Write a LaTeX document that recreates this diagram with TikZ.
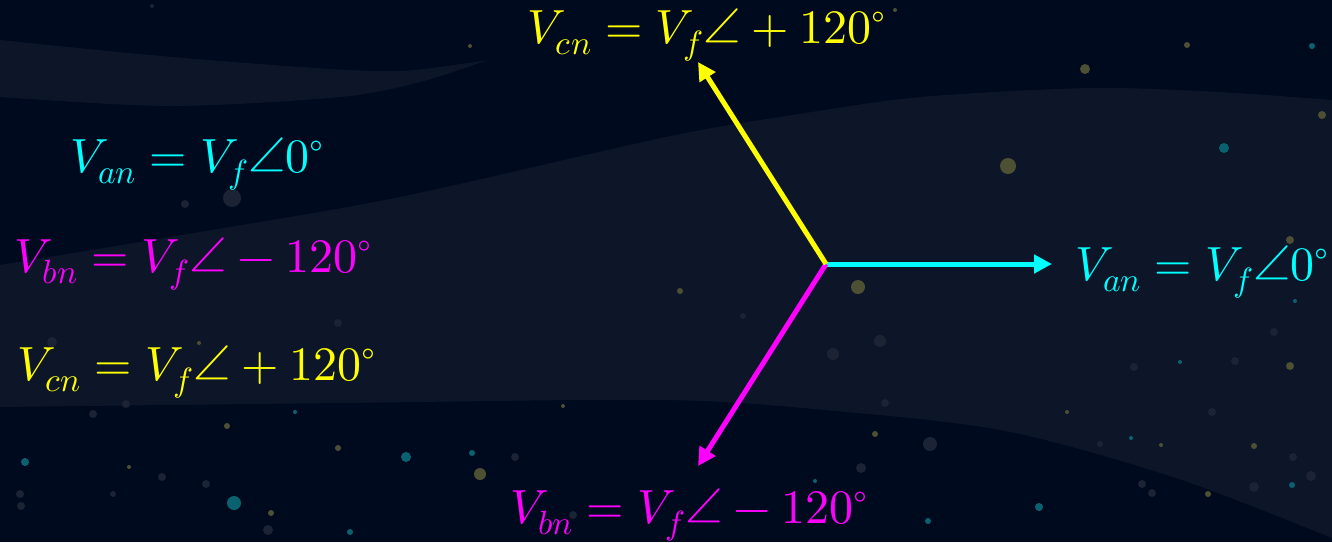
\documentclass[tikz,border=0pt]{standalone}
\usepackage{unicode-math}
\usepackage{tikz}
\usetikzlibrary{arrows.meta}
\definecolor{bgbase}{RGB}{0,10,31}
\definecolor{bgband}{RGB}{13,22,41}
\definecolor{dotolive}{RGB}{78,80,52}
\definecolor{dotteal}{RGB}{10,98,112}
\definecolor{dotgrey}{RGB}{27,35,52}
\definecolor{phcyan}{RGB}{0,255,255}
\definecolor{phmag}{RGB}{255,0,255}
\definecolor{phyel}{RGB}{255,255,0}
\tikzset{
  phlabel/.style={inner sep=0pt, font=\fontsize{48}{56}\selectfont},
  phasor/.style={line width=5pt, -{Triangle[length=18pt,width=18pt]}},
}
\begin{document}
\begin{tikzpicture}[x=1pt,y=-1pt]
  % background and frame of the picture
  \fill[bgbase] (0,0) rectangle (1332,542);
  \useasboundingbox (0,0) rectangle (1332,542);
  % upper wisp
  \fill[bgband] plot[smooth] coordinates {(0,40) (150,55) (300,67) (400,71) (488,60)}
    -- plot[smooth] coordinates {(488,60) (420,82) (340,97) (170,106) (0,97)} -- cycle;
  % wide band
  \fill[bgband] plot[smooth] coordinates {(0,265) (200,232) (400,197) (666,137)
      (793,115) (921,97) (1091,88) (1218,92) (1332,100)}
    -- plot[smooth] coordinates {(1332,538) (1176,478) (1006,431) (836,411)
      (666,400) (340,403) (0,407)} -- cycle;
  % stars
  \foreach \x/\y/\r in {1008/166/8, 858/287/7, 1085/69/5, 480/474/6, 1187/45/3,
      1322/115/4, 1290/240/4, 895/10/2, 680/291/3, 1290/366/4, 1254/446/3,
      1208/494/3, 875/434/3, 1161/445/2, 1067/412/2, 338/448/3, 199/343/2,
      227/426/3, 271/513/3, 129/467/2, 563/406/2, 470/46/2}
    \fill[dotolive] (\x,\y) circle[radius=\r pt];
  \foreach \x/\y/\r in {1224/148/5, 1312/46/3, 234/503/7, 406/457/5, 25/462/4,
      1039/507/4, 928/521/3, 815/481/2, 1292/485/3, 1131/438/2, 1180/362/2,
      1295/301/2, 295/412/2, 472/453/3, 350/532/3}
    \fill[dotteal] (\x,\y) circle[radius=\r pt];
  \foreach \x/\y/\r in {232/198/9, 185/204/4, 880/341/6, 833/354/6, 1134/367/4,
      1235/361/4, 1274/332/4, 930/444/7, 1100/444/3, 1212/412/4, 1142/484/4,
      1152/493/4, 1254/487/5, 1293/457/4, 1311/476/5, 861/468/5, 885/403/4,
      743/316/3, 52/342/5, 126/404/4, 93/414/4, 338/323/4, 162/477/4,
      206/484/4, 20/494/4, 21/506/4, 113/494/3, 268/530/5, 515/457/4, 573/515/4,
      152/6/2}
    \fill[dotgrey] (\x,\y) circle[radius=\r pt];
  % phasors
  \coordinate (N) at (826,264);
  \coordinate (tipA) at (1052,264);
  \coordinate (tipB) at (698,466);
  \coordinate (tipC) at (698,62);
  \draw[phasor, phcyan] (N) -- (tipA);
  \draw[phasor, phmag] (N) -- (tipB);
  \draw[phasor, phyel] (N) -- (tipC);
  % labels at the tips
  \node[phlabel, text=phcyan, anchor=base west] (labA) at (1075,280)
    {$V_{an}=V_f\angle 0^{\circ}$};
  \node[phlabel, text=phmag, anchor=base] (labB) at (689,523)
    {$V_{bn}=V_f\angle -120^{\circ}$};
  \node[phlabel, text=phyel, anchor=base] (labC) at (707,43)
    {$V_{cn}=V_f\angle +120^{\circ}$};
  % list on the left
  \node[phlabel, text=phcyan, anchor=base west] (listA) at (70,172)
    {$V_{an}=V_f\angle 0^{\circ}$};
  \node[phlabel, text=phmag, anchor=base west] (listB) at (14,272)
    {$V_{bn}=V_f\angle -120^{\circ}$};
  \node[phlabel, text=phyel, anchor=base west] (listC) at (17,380)
    {$V_{cn}=V_f\angle +120^{\circ}$};
\end{tikzpicture}
\end{document}
